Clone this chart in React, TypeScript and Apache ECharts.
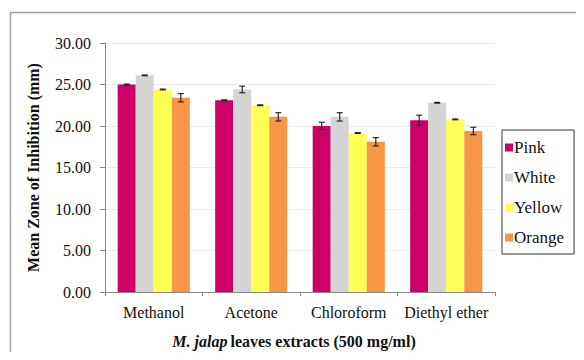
import React, { useEffect, useRef } from "react";
import * as echarts from "echarts";

// Solvent extracts along the x axis
const categories = ["Methanol", "Acetone", "Chloroform", "Diethyl ether"];
// Flower colour varieties (series)
const seriesNames = ["Pink", "White", "Yellow", "Orange"];
const seriesColors = ["#CC0066", "#D4D4D4", "#FFFF55", "#F79646"];

// Mean zone of inhibition (mm)
const pinkValues = [25.0, 23.1, 20.0, 20.7];
const whiteValues = [26.1, 24.4, 21.1, 22.8];
const yellowValues = [24.4, 22.5, 19.15, 20.8];
const orangeValues = [23.4, 21.1, 18.1, 19.4];

// Standard error of each mean
const pinkErrors = [0.05, 0.05, 0.45, 0.6];
const whiteErrors = [0.05, 0.4, 0.5, 0.05];
const yellowErrors = [0.05, 0.05, 0.05, 0.05];
const orangeErrors = [0.5, 0.5, 0.5, 0.45];

const yTicks = { min: 0, max: 30, interval: 5 };

const allValues = [pinkValues, whiteValues, yellowValues, orangeValues];
const allErrors = [pinkErrors, whiteErrors, yellowErrors, orangeErrors];

const SERIF = "Liberation Serif";
const CATEGORY_GAP = 0.26;

export default function App() {
  const ref = useRef<HTMLDivElement>(null);

  useEffect(() => {
    if (!ref.current) return;
    const chart = echarts.init(ref.current, null, { renderer: "svg" });

    const barSeries = seriesNames.map((name, s) => ({
      name,
      type: "bar",
      data: allValues[s],
      barGap: "0%",
      barCategoryGap: `${CATEGORY_GAP * 100}%`,
      itemStyle: { color: seriesColors[s] },
      z: 2,
    }));

    const errorSeries = seriesNames.map((name, s) => ({
      name: name + " error",
      type: "custom",
      data: categories.map((_, i) => [i, allValues[s][i], allErrors[s][i]]),
      encode: { x: 0, y: 1 },
      z: 5,
      silent: true,
      renderItem: (params: any, api: any) => {
        const idx = api.value(0);
        const val = api.value(1);
        const err = api.value(2);
        const base = api.coord([idx, 0]);
        const band = api.size([1, 0])[0];
        const bw = (band * (1 - CATEGORY_GAP)) / seriesNames.length;
        const cx = base[0] + (s - (seriesNames.length - 1) / 2) * bw;
        const top = api.coord([idx, val + err])[1];
        const bot = api.coord([idx, val - err])[1];
        const cap = 3;
        const style = { stroke: "#1a1a1a", lineWidth: 1.1 };
        return {
          type: "group",
          children: [
            { type: "line", shape: { x1: cx, y1: top, x2: cx, y2: bot }, style },
            { type: "line", shape: { x1: cx - cap, y1: top, x2: cx + cap, y2: top }, style },
            { type: "line", shape: { x1: cx - cap, y1: bot, x2: cx + cap, y2: bot }, style },
          ],
        };
      },
    }));

    chart.setOption({
      animation: false,
      backgroundColor: "#ffffff",
      textStyle: { fontFamily: SERIF },
      grid: { left: 105, right: 89, top: 43, bottom: 68, containLabel: false },
      graphic: [
        {
          type: "rect",
          shape: { x: 10.5, y: 12.5, width: 700, height: 500 },
          style: { fill: "none", stroke: "#a0a0a0", lineWidth: 1.5 },
          silent: true,
          z: -1,
        },
      ],
      legend: {
        data: seriesNames,
        orient: "vertical",
        left: 502,
        top: 130,
        width: 64,
        padding: [9, 10, 8, 3],
        itemWidth: 8,
        itemHeight: 8,
        itemGap: 13,
        icon: "rect",
        borderColor: "#333",
        borderWidth: 1,
        textStyle: { fontFamily: SERIF, fontSize: 17, color: "#111", padding: [0, 0, 0, -4] },
      },
      xAxis: {
        type: "category",
        data: categories,
        axisLine: { lineStyle: { color: "#8a8a8a" } },
        axisTick: { show: true, length: 4, lineStyle: { color: "#8a8a8a" } },
        axisLabel: { fontFamily: SERIF, fontSize: 16, color: "#111", margin: 12, interval: 0 },
        name: "{i|M. jalap} {b|leaves extracts (500 mg/ml)}",
        nameLocation: "middle",
        nameGap: 41,
        nameTextStyle: {
          padding: [0, 12, 0, 0],
          rich: {
            i: { fontFamily: SERIF, fontSize: 16, fontWeight: "bold", fontStyle: "italic", color: "#111" },
            b: { fontFamily: SERIF, fontSize: 16, fontWeight: "bold", color: "#111" },
          },
        },
      },
      yAxis: {
        type: "value",
        min: yTicks.min,
        max: yTicks.max,
        interval: yTicks.interval,
        axisLine: { show: true, lineStyle: { color: "#8a8a8a" } },
        axisTick: { show: true, length: 5, lineStyle: { color: "#8a8a8a" } },
        splitLine: { lineStyle: { color: "#ececec" } },
        axisLabel: {
          fontFamily: SERIF,
          fontSize: 16,
          color: "#111",
          margin: 14,
          formatter: (v: number) => v.toFixed(2),
        },
        name: "Mean Zone of Inhibition (mm)",
        nameLocation: "middle",
        nameGap: 64,
        nameTextStyle: { fontFamily: SERIF, fontSize: 16, fontWeight: "bold", color: "#111" },
      },
      series: [...barSeries, ...errorSeries],
    });

    return () => chart.dispose();
  }, []);

  return <div ref={ref} style={{ width: 584, height: 360, margin: -8 }} />;
}
